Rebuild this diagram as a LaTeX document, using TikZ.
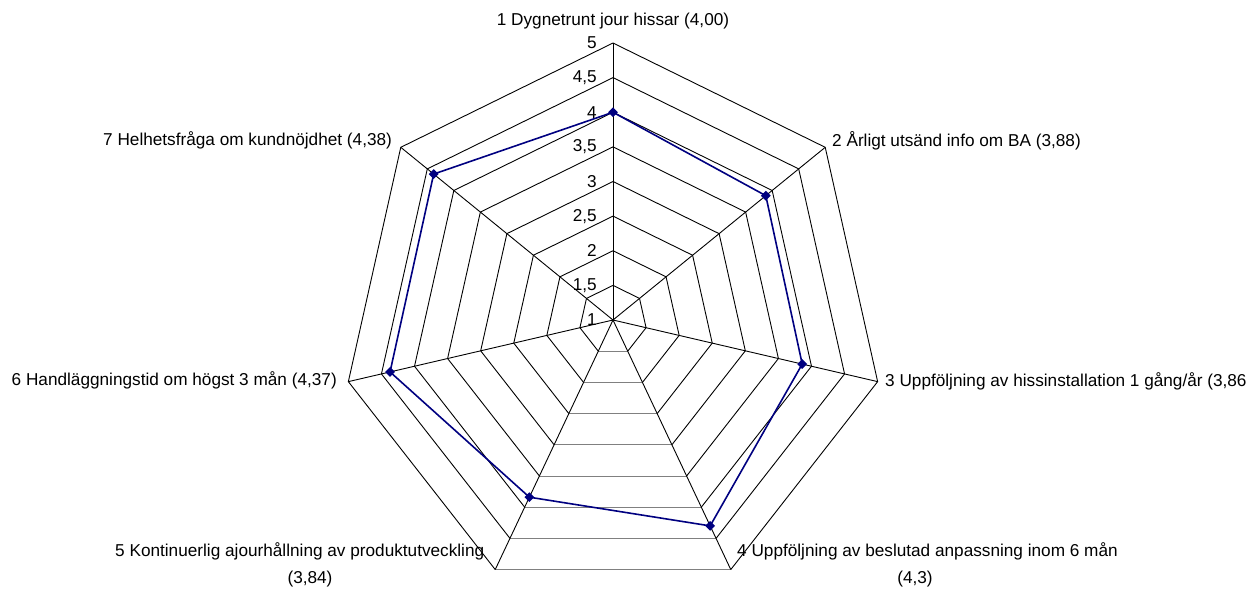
\documentclass[tikz,border=0pt]{standalone}
\usepackage{fontspec}
\setmainfont{Liberation Sans}
\usetikzlibrary{shapes.geometric}
\definecolor{navyc}{RGB}{0,0,128}
\definecolor{axgray}{RGB}{128,128,128}
\begin{document}
\begin{tikzpicture}[x=1pt,y=-1pt,
  lbl/.style={font=\fontsize{17.2}{20}\selectfont, inner sep=0pt},
  ring/.style={black, line width=0.9pt},
  mk/.style={diamond, fill=navyc, inner sep=0pt, minimum size=10pt},
  series/.style={navyc, line width=1.6pt}]
\useasboundingbox (0,0) rectangle (1254,595);
\def\cx{613}\def\cy{320}\def\R{277}\def\xs{0.98}
\coordinate (c) at (\cx,\cy);
\foreach \k in {0,...,6}{
  \pgfmathsetmacro\a{90-\k*360/7}
  \foreach \i in {1,...,8}{
    \coordinate (r\i-\k) at ({\cx+\xs*\i*\R/8*cos(\a)},{\cy-\i*\R/8*sin(\a)});
  }
}
\foreach \i in {1,...,8}{
  \draw[ring] (r\i-3) -- (r\i-2) -- (r\i-1) -- (r\i-0) -- (r\i-6) -- (r\i-5) -- (r\i-4);
  \draw[ring, axgray] (r\i-4) -- (r\i-3);
}
\foreach \k in {0,...,6}{ \draw[ring] (c) -- (r8-\k); }
\foreach \k/\v in {0/4.00,1/3.88,2/3.86,3/4.3,4/3.84,5/4.37,6/4.38}{
  \pgfmathsetmacro\a{90-\k*360/7}
  \pgfmathsetmacro\r{(\v-1)/4*\R}
  \coordinate (p\k) at ({\cx+\xs*\r*cos(\a)},{\cy-\r*sin(\a)});
}
\draw[series] (p0) -- (p1) -- (p2) -- (p3) -- (p4) -- (p5) -- (p6) -- cycle;
\foreach \k in {0,...,6}{ \node[mk] (m\k) at (p\k) {}; }
\foreach \i/\t in {0/1,1/{1,5},2/2,3/{2,5},4/3,5/{3,5},6/4,7/{4,5},8/5}{
  \node[lbl, anchor=east] (v\i) at (597, {\cy-\i*\R/8}) {\t};
}
\node[lbl, anchor=base] (l1) at (613,25) {1 Dygnetrunt jour hissar (4,00)};
\node[lbl, anchor=base west] (l2) at (832,146) {2 Årligt utsänd info om BA (3,88)};
\node[lbl, anchor=base west] (l3) at (885,386) {3 Uppföljning av hissinstallation 1 gång/år (3,86};
\node[lbl, anchor=base west] (l4) at (737,556) {4 Uppföljning av beslutad anpassning inom 6 mån};
\node[lbl, anchor=base] (l4b) at (915,583) {(4,3)};
\node[lbl, anchor=base west] (l5) at (115,556) {5 Kontinuerlig ajourhållning av produktutveckling};
\node[lbl, anchor=base] (l5b) at (310,583) {(3,84)};
\node[lbl, anchor=base east] (l6) at (337,385) {6 Handläggningstid om högst 3 mån (4,37)};
\node[lbl, anchor=base west] (l7) at (103,145) {7 Helhetsfråga om kundnöjdhet (4,38)};
\end{tikzpicture}
\end{document}
